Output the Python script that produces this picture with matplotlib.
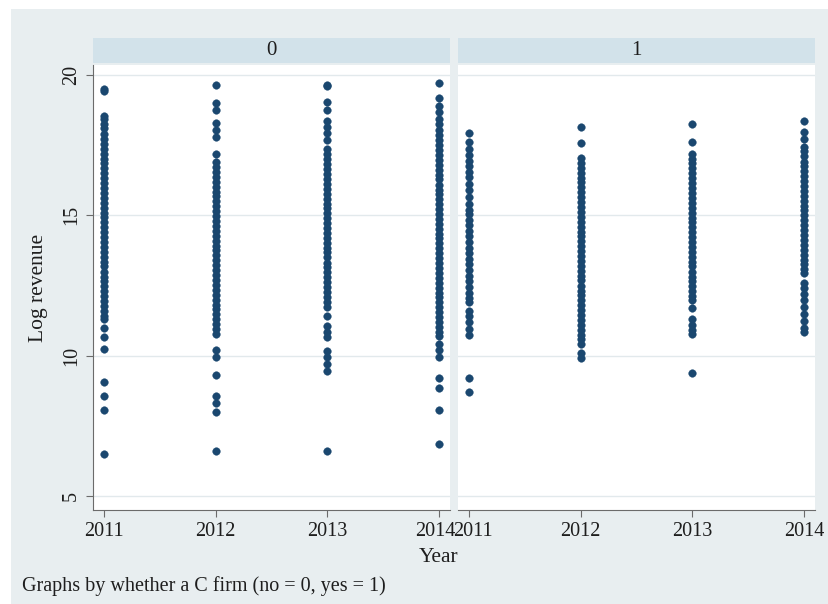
import matplotlib
matplotlib.use("Agg")
import matplotlib.pyplot as plt
from matplotlib.patches import Rectangle
from matplotlib.transforms import ScaledTranslation

years = [2011, 2012, 2013, 2014]
groups = ["0", "1"]

g0_2011 = [19.52, 19.45, 18.55, 18.42, 18.25, 18.1, 17.9, 17.72, 17.55, 17.38, 17.2, 17.02, 16.85,
           16.68, 16.5, 16.33, 16.15, 15.98, 15.8, 15.63, 15.45, 15.28, 15.1, 14.93, 14.75, 14.58,
           14.4, 14.22, 14.05, 13.88, 13.7, 13.52, 13.35, 13.18, 13.0, 12.82, 12.65, 12.48, 12.3,
           12.12, 11.95, 11.78, 11.6, 11.42, 11.3, 11.0, 10.65, 10.25, 9.05, 8.55, 8.05, 6.5]
g0_2012 = [19.65, 19.0, 18.75, 18.3, 18.05, 17.8, 17.2, 16.9, 16.72, 16.55, 16.38, 16.2, 16.02,
           15.85, 15.68, 15.5, 15.32, 15.15, 14.98, 14.8, 14.62, 14.45, 14.28, 14.1, 13.92, 13.75,
           13.58, 13.4, 13.22, 13.05, 12.88, 12.7, 12.52, 12.35, 12.18, 12.0, 11.82, 11.65, 11.48,
           11.3, 11.12, 10.95, 10.78, 10.2, 9.95, 9.3, 8.55, 8.3, 8.0, 6.6]
g0_2013 = [19.65, 19.6, 19.05, 18.75, 18.35, 18.15, 17.95, 17.7, 17.35, 17.18, 17.0, 16.82, 16.65,
           16.48, 16.3, 16.12, 15.95, 15.78, 15.6, 15.42, 15.25, 15.08, 14.9, 14.72, 14.55, 14.38,
           14.2, 14.02, 13.85, 13.68, 13.5, 13.32, 13.15, 12.98, 12.8, 12.62, 12.45, 12.28, 12.1,
           11.92, 11.75, 11.4, 11.05, 10.85, 10.65, 10.15, 9.95, 9.7, 9.45, 6.6]
g0_2014 = [19.72, 19.2, 18.9, 18.7, 18.45, 18.25, 18.05, 17.85, 17.68, 17.5, 17.32, 17.15, 16.98,
           16.8, 16.62, 16.45, 16.28, 16.1, 15.92, 15.75, 15.58, 15.4, 15.22, 15.05, 14.88, 14.7,
           14.52, 14.35, 14.18, 14.0, 13.82, 13.65, 13.48, 13.3, 13.12, 12.95, 12.78, 12.6, 12.42,
           12.25, 12.08, 11.9, 11.72, 11.55, 11.38, 11.2, 11.02, 10.85, 10.7, 10.4, 10.2, 9.95,
           9.2, 8.85, 8.05, 6.85]
g1_2011 = [17.95, 17.6, 17.35, 17.15, 16.95, 16.75, 16.55, 16.38, 16.12, 15.9, 15.65, 15.42, 15.2,
           15.05, 14.85, 14.65, 14.45, 14.25, 14.05, 13.85, 13.65, 13.45, 13.25, 13.05, 12.85, 12.65,
           12.45, 12.25, 12.05, 11.9, 11.6, 11.4, 11.2, 10.95, 10.75, 9.22, 8.72]
g1_2012 = [18.15, 17.58, 17.05, 16.88, 16.7, 16.52, 16.35, 16.18, 16.0, 15.82, 15.65, 15.48, 15.3,
           15.12, 14.95, 14.78, 14.6, 14.42, 14.25, 14.08, 13.9, 13.72, 13.55, 13.38, 13.2, 13.02,
           12.85, 12.68, 12.5, 12.32, 12.15, 11.98, 11.8, 11.62, 11.45, 11.28, 11.1, 10.92, 10.75,
           10.58, 10.42, 10.1, 9.9]
g1_2013 = [18.25, 17.6, 17.2, 17.02, 16.85, 16.68, 16.5, 16.32, 16.15, 15.98, 15.8, 15.62, 15.45,
           15.28, 15.1, 14.92, 14.75, 14.58, 14.4, 14.22, 14.05, 13.88, 13.7, 13.52, 13.35, 13.18,
           13.0, 12.82, 12.65, 12.48, 12.3, 12.12, 12.0, 11.7, 11.3, 11.1, 10.92, 10.78, 9.4]
g1_2014 = [18.35, 17.98, 17.72, 17.45, 17.28, 17.1, 16.92, 16.75, 16.58, 16.4, 16.22, 16.05, 15.88,
           15.7, 15.52, 15.35, 15.18, 15.0, 14.82, 14.65, 14.48, 14.3, 14.12, 13.95, 13.78, 13.6,
           13.42, 13.25, 13.08, 12.95, 12.6, 12.4, 12.2, 12.0, 11.75, 11.5, 11.25, 11.0, 10.85]

panel_data = {
    "0": [g0_2011, g0_2012, g0_2013, g0_2014],
    "1": [g1_2011, g1_2012, g1_2013, g1_2014],
}
yticks = [5, 10, 15, 20]

FONT = "Liberation Serif"
W, H = 829, 604
fig = plt.figure(figsize=(W / 100, H / 100), dpi=100, facecolor="white")

bg = "#e8eef0"
strip_col = "#d2e2ea"
marker_col = "#1a476f"
axis_col = "#6b6b6b"
text_col = "#1e1e1e"

fig.patches.append(Rectangle((11 / W, 0), 1 - 11 / W, 1 - 9 / H, transform=fig.transFigure,
                             facecolor=bg, edgecolor="none", zorder=-10))

def fx(px):
    return px / W

def fy(py):
    return 1 - py / H

panels = [(93, 450), (458, 815)]
top, bottom = 65, 510

for i, g in enumerate(groups):
    x0, x1 = panels[i]
    ax = fig.add_axes([fx(x0), fy(bottom), fx(x1 - x0), (bottom - top) / H])
    ax.set_facecolor("white")
    for yr, vals in zip(years, panel_data[g]):
        ax.scatter([yr] * len(vals), vals, s=30, color=marker_col, edgecolors=marker_col,
                   linewidths=0.3, zorder=3)
    ax.set_xlim(2010.905, 2014.095)
    ax.set_ylim(4.5, 20.36)
    ax.set_yticks(yticks)
    ax.set_xticks(years)
    for yv in yticks:
        ax.axhline(yv, color="#e2e9ec", lw=1.0, zorder=1)
    for s in ["top", "right"]:
        ax.spines[s].set_visible(False)
    ax.spines["bottom"].set_color(axis_col)
    ax.spines["left"].set_color(axis_col)
    ax.tick_params(axis="both", colors=axis_col, length=5, width=0.8, direction="out")
    ax.set_xticklabels([str(y) for y in years], fontsize=14.5, fontfamily=FONT, color=text_col)
    labels = ax.get_xticklabels()
    if i == 0:
        labels[-1].set_transform(labels[-1].get_transform() +
                                 ScaledTranslation(-4 / 100, 0, fig.dpi_scale_trans))
        ax.set_yticklabels([str(v) for v in yticks], fontsize=14.5, fontfamily=FONT,
                           color=text_col, rotation=90, va="center")
        ax.set_ylabel("Log revenue", fontsize=15.5, fontfamily=FONT, color=text_col, labelpad=10)
    else:
        labels[0].set_transform(labels[0].get_transform() +
                                ScaledTranslation(4 / 100, 0, fig.dpi_scale_trans))
        ax.spines["left"].set_visible(False)
        ax.tick_params(axis="y", left=False, labelleft=False)
    # strip
    sax = fig.add_axes([fx(x0), fy(63), fx(x1 - x0), 25 / H])
    sax.set_facecolor(strip_col)
    sax.set_xticks([])
    sax.set_yticks([])
    for s in sax.spines.values():
        s.set_visible(False)
    sax.text(0.5, 0.5, g, ha="center", va="center", fontsize=15, fontfamily=FONT,
             color=text_col, transform=sax.transAxes)

fig.text(fx(439), fy(557), "Year", ha="center", va="center", fontsize=15.5, fontfamily=FONT,
         color=text_col)
fig.text(fx(22), fy(586), "Graphs by whether a C firm (no = 0, yes = 1)", ha="left",
         va="center", fontsize=14.5, fontfamily=FONT, color=text_col)

fig.savefig("out.png", dpi=100, facecolor="white")
